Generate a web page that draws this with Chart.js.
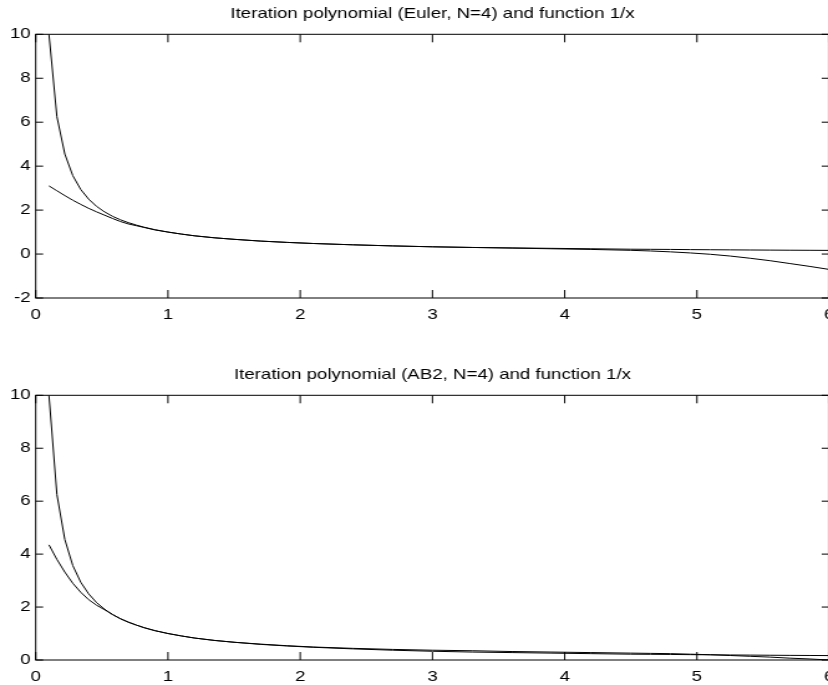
<!DOCTYPE html>
<html>
<head>
<meta charset="utf-8">
<script src="https://cdn.jsdelivr.net/npm/chart.js@4/dist/chart.umd.min.js"></script>
<style>
  html, body { margin: 0; padding: 0; background: #fff; overflow: hidden; width: 828px; height: 685px; }
  .plot { position: absolute; left: 0; transform: scaleX(1.245); transform-origin: 0 0; }
</style>
</head>
<body>
<div class="plot" style="top:0px"><canvas id="euler" width="680" height="325"></canvas></div>
<div class="plot" style="top:361px"><canvas id="ab2" width="680" height="324"></canvas></div>
<script>
// sample points along x
const xs = [0.1, 0.16, 0.22, 0.28, 0.34, 0.40, 0.46, 0.52, 0.58, 0.64, 0.70, 0.76, 0.82, 0.9,
            1.0, 1.1, 1.2, 1.35, 1.5, 1.7, 1.9, 2.1, 2.4, 2.7, 3.0, 3.3, 3.6, 3.9, 4.2, 4.5,
            4.65, 4.8, 4.95, 5.1, 5.25, 5.4, 5.55, 5.7, 5.85, 6.0];

// the function 1/x
const recip = [10.0, 6.25, 4.55, 3.57, 2.94, 2.50, 2.17, 1.92, 1.72, 1.56, 1.43, 1.32, 1.22, 1.11,
               1.00, 0.91, 0.83, 0.74, 0.67, 0.59, 0.53, 0.48, 0.42, 0.37, 0.33, 0.30, 0.28, 0.26,
               0.24, 0.22, 0.215, 0.21, 0.202, 0.196, 0.19, 0.185, 0.18, 0.175, 0.171, 0.167];

// iteration polynomial, Euler
const eulerPoly = [3.10, 2.88, 2.66, 2.45, 2.26, 2.08, 1.92, 1.77, 1.62, 1.48, 1.37, 1.29, 1.21, 1.10,
                   1.00, 0.91, 0.83, 0.74, 0.67, 0.59, 0.53, 0.48, 0.42, 0.37, 0.33, 0.30, 0.27, 0.24,
                   0.21, 0.17, 0.14, 0.10, 0.05, -0.01, -0.09, -0.19, -0.30, -0.43, -0.56, -0.70];

// iteration polynomial, AB2
const ab2Poly = [4.35, 3.80, 3.32, 2.90, 2.56, 2.28, 2.07, 1.90, 1.72, 1.56, 1.43, 1.32, 1.22, 1.11,
                 1.00, 0.91, 0.83, 0.74, 0.67, 0.60, 0.54, 0.49, 0.44, 0.40, 0.37, 0.35, 0.32, 0.30,
                 0.28, 0.26, 0.25, 0.24, 0.22, 0.20, 0.17, 0.14, 0.11, 0.07, 0.04, 0.00];

const xTicks = [0, 1, 2, 3, 4, 5, 6];
const eulerYTicks = [-2, 0, 2, 4, 6, 8, 10];
const ab2YTicks = [0, 2, 4, 6, 8, 10];

const FONT = { family: "'Liberation Sans', Arial, Helvetica, sans-serif", size: 15, weight: 'normal' };

// box around the axes with inward tick marks on all four sides
const frame = {
  id: 'frame',
  afterDatasetsDraw(chart) {
    const { ctx, chartArea: a, scales: { x, y } } = chart;
    ctx.save();
    ctx.strokeStyle = '#000';
    ctx.lineWidth = 1;
    ctx.strokeRect(a.left, a.top, a.right - a.left, a.bottom - a.top);
    ctx.beginPath();
    x.ticks.forEach(t => {
      const px = x.getPixelForValue(t.value);
      ctx.moveTo(px, a.bottom); ctx.lineTo(px, a.bottom - 8);
      ctx.moveTo(px, a.top); ctx.lineTo(px, a.top + 8);
    });
    y.ticks.forEach(t => {
      const py = y.getPixelForValue(t.value);
      ctx.moveTo(a.left, py); ctx.lineTo(a.left + 6, py);
      ctx.moveTo(a.right, py); ctx.lineTo(a.right - 6, py);
    });
    ctx.stroke();
    ctx.restore();
  }
};

function makePlot(id, title, poly, yTicks, xAxisHeight) {
  const canvas = document.getElementById(id);
  return new Chart(canvas.getContext('2d'), {
    type: 'line',
    data: {
      datasets: [
        { data: xs.map((x, i) => ({ x: x, y: recip[i] })) },
        { data: xs.map((x, i) => ({ x: x, y: poly[i] })) }
      ]
    },
    options: {
      responsive: false,
      animation: false,
      events: [],
      layout: { padding: { left: 0, right: 14, top: 0, bottom: 0 } },
      elements: {
        point: { radius: 0 },
        line: { borderColor: '#000', borderWidth: 1, tension: 0, fill: false }
      },
      plugins: {
        legend: { display: false },
        tooltip: { enabled: false },
        title: {
          display: true,
          text: title,
          fullSize: false,
          color: '#000',
          font: FONT,
          padding: { top: 5, bottom: 11.3 }
        }
      },
      scales: {
        x: {
          type: 'linear',
          min: xTicks[0],
          max: xTicks[xTicks.length - 1],
          afterBuildTicks(s) { s.ticks = xTicks.map(v => ({ value: v })); },
          ticks: { color: '#000', font: FONT, padding: 8, maxRotation: 0, autoSkip: false },
          grid: { display: false, drawTicks: false },
          border: { display: false },
          afterFit(s) { s.height = xAxisHeight; }
        },
        y: {
          type: 'linear',
          min: yTicks[0],
          max: yTicks[yTicks.length - 1],
          afterBuildTicks(s) { s.ticks = yTicks.map(v => ({ value: v })); },
          ticks: { color: '#000', font: FONT, padding: 4, autoSkip: false },
          grid: { display: false, drawTicks: false },
          border: { display: false },
          afterFit(s) { s.width = 28.7; }
        }
      }
    },
    plugins: [frame]
  });
}

makePlot('euler', 'Iteration polynomial (Euler, N=4) and function 1/x', eulerPoly, eulerYTicks, 27);
makePlot('ab2', 'Iteration polynomial (AB2, N=4) and function 1/x', ab2Poly, ab2YTicks, 25);
</script>
</body>
</html>
